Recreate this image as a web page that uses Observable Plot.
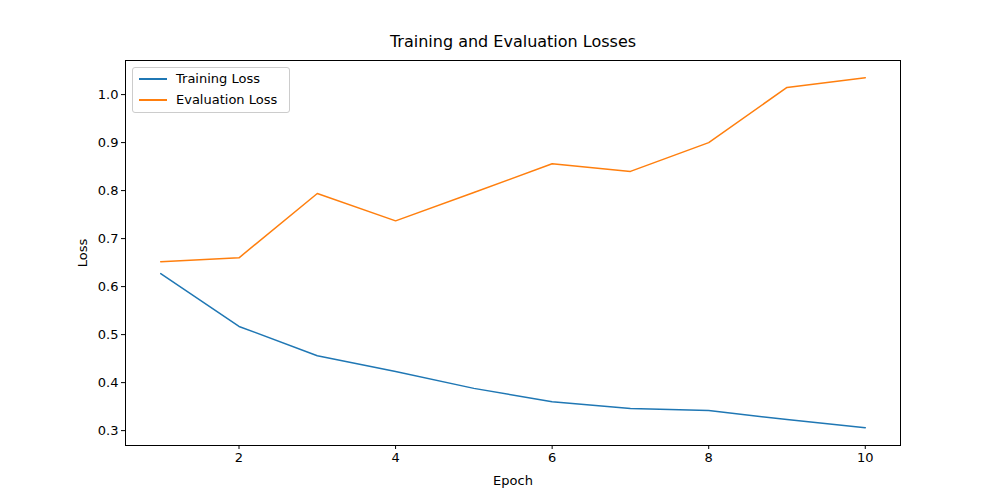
<!DOCTYPE html>
<html><head>
<script src="https://cdn.jsdelivr.net/npm/d3@7"></script>
<script src="https://cdn.jsdelivr.net/npm/@observablehq/plot@0.6"></script>
<style>
body{margin:0;background:#fff;font-family:"DejaVu Sans",sans-serif;}
#wrap{position:relative;width:1000px;height:500px;}
#legend{position:absolute;left:132px;top:67px;width:156px;height:44px;border:1px solid #ccc;border-radius:3px;background:rgba(255,255,255,0.8);font-size:13px;}
.row{position:absolute;left:6px;display:flex;align-items:center;}
.sw{width:28px;height:2px;margin-right:9px;}
</style></head><body>
<div id="wrap"><div id="chart"></div>
<div id="legend">
<div class="row" style="top:3px"><div class="sw" style="background:#1f77b4"></div>Training Loss</div>
<div class="row" style="top:24px"><div class="sw" style="background:#ff7f0e"></div>Evaluation Loss</div>
</div></div>
<script>
const epochs = [1,2,3,4,5,6,7,8,9,10];
const trainLoss = [0.627,0.517,0.456,0.423,0.388,0.360,0.346,0.342,0.323,0.306];
const evalLoss = [0.652,0.660,0.794,0.737,0.796,0.856,0.840,0.900,1.015,1.035];
const data = epochs.flatMap((e,i)=>[{e,v:trainLoss[i],s:"Training Loss"},{e,v:evalLoss[i],s:"Evaluation Loss"}]);
const chart = Plot.plot({
  width:1000,height:500,marginLeft:125,marginRight:100,marginTop:60,marginBottom:55,
  style:{fontFamily:"DejaVu Sans",fontSize:"13px",color:"#000"},
  x:{domain:[0.55,10.45],ticks:[2,4,6,8,10],tickSize:4,tickPadding:3,label:"Epoch",labelAnchor:"center",labelArrow:"none",labelOffset:39},
  y:{domain:[0.269,1.071],ticks:[0.3,0.4,0.5,0.6,0.7,0.8,0.9,1.0],tickFormat:d3.format(".1f"),tickSize:4,tickPadding:3,label:"Loss",labelAnchor:"center",labelArrow:"none",labelOffset:48},
  color:{domain:["Training Loss","Evaluation Loss"],range:["#1f77b4","#ff7f0e"]},
  marks:[
    Plot.frame({stroke:"#000"}),
    Plot.line(data,{x:"e",y:"v",stroke:"s",strokeWidth:1.5}),
    Plot.text(["Training and Evaluation Losses"],{frameAnchor:"top",dy:-14,fontSize:16,lineAnchor:"bottom"})
  ]
});
document.getElementById("chart").append(chart);
</script></body></html>
